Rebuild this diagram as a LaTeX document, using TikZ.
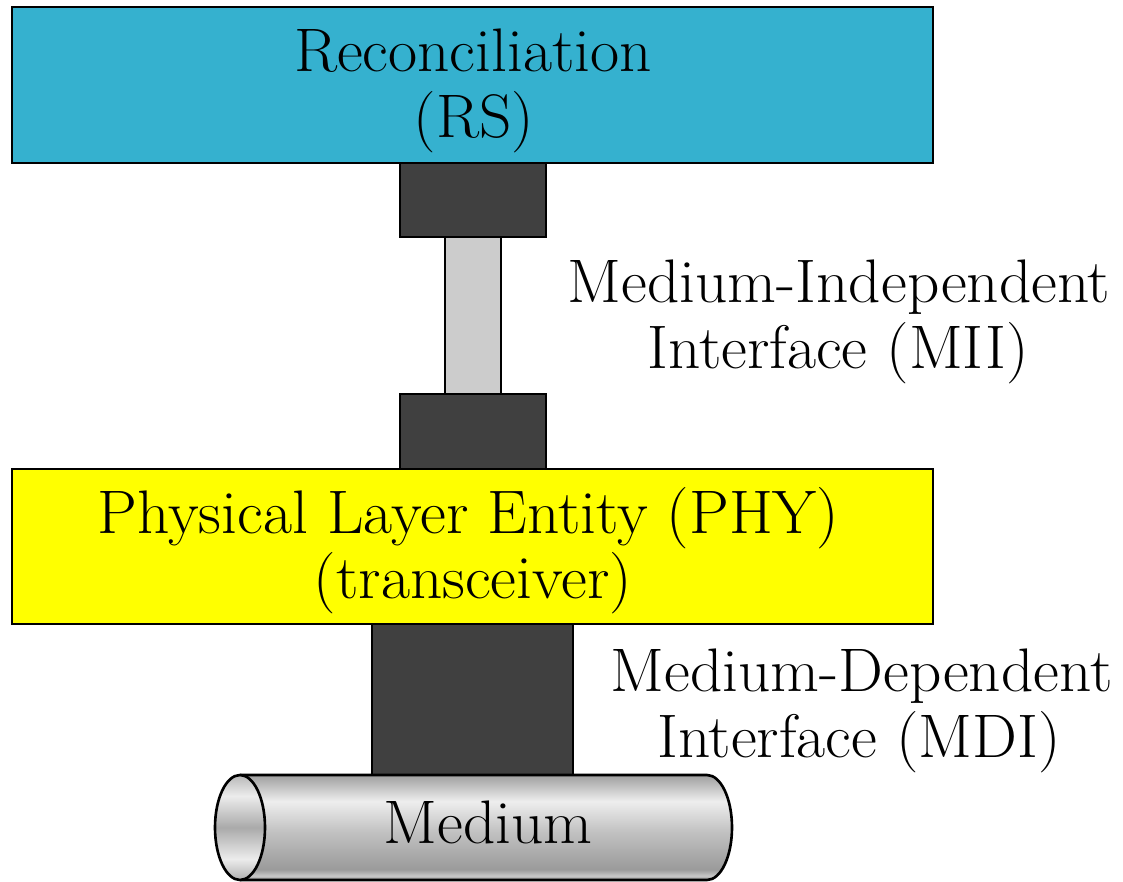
\documentclass[tikz,border=0pt]{standalone}
\usepackage{fontspec}
\setmainfont{Latin Modern Roman}[FakeStretch=1.03]
\usepackage{tikz}
\definecolor{rscol}{RGB}{53,177,207}
\definecolor{darkblk}{RGB}{64,64,64}
\definecolor{lightbar}{RGB}{204,204,204}
\definecolor{phycol}{RGB}{255,255,0}
\definecolor{gA}{RGB}{144,144,144}
\definecolor{gB}{RGB}{200,200,200}
\definecolor{gC}{RGB}{154,154,154}
\definecolor{gD}{RGB}{176,176,176}
\definecolor{gE}{RGB}{192,192,192}
\definecolor{gF}{RGB}{238,238,238}
\definecolor{gG}{RGB}{184,184,184}
\definecolor{gH}{RGB}{160,160,160}
\pgfdeclareverticalshading{tubebody}{100bp}{color(0bp)=(gA); color(25bp)=(gA); color(27bp)=(gB); color(30bp)=(gC); color(40bp)=(gD); color(47.5bp)=(gE); color(62.5bp)=(gF); color(71bp)=(gG); color(75bp)=(gH); color(100bp)=(gH)}
\definecolor{eA}{RGB}{176,176,176}
\definecolor{eB}{RGB}{236,236,236}
\definecolor{eC}{RGB}{170,170,170}
\definecolor{eD}{RGB}{236,236,236}
\definecolor{eE}{RGB}{184,184,184}
\pgfdeclareverticalshading{tubeend}{100bp}{color(0bp)=(eA); color(25bp)=(eA); color(35bp)=(eB); color(50bp)=(eC); color(65bp)=(eD); color(75bp)=(eE); color(100bp)=(eE)}
\begin{document}
\begin{tikzpicture}[x=0.02cm,y=0.02cm,
  blk/.style={draw=black,line width=1.5pt,inner sep=0pt,outer sep=0pt},
  txt/.style={inner sep=0pt,anchor=base,font=\fontsize{35}{39}\selectfont}]
\useasboundingbox (0,0) rectangle (1123,-882);
% connector blocks
\node[blk,fill=darkblk,minimum width=2.92cm,minimum height=1.48cm] (topblk) at (473,-200) {};
\node[blk,fill=lightbar,minimum width=1.12cm,minimum height=3.14cm] (bar) at (473,-315.5) {};
\node[blk,fill=darkblk,minimum width=2.92cm,minimum height=1.5cm] (botblk) at (473,-431.5) {};
\node[blk,fill=darkblk,minimum width=4.02cm,minimum height=3.02cm] (mdiblk) at (472.5,-699.5) {};
% layer boxes
\node[blk,fill=rscol,minimum width=18.42cm,minimum height=3.12cm] (rs) at (472.5,-85) {};
\node[blk,fill=phycol,minimum width=18.42cm,minimum height=3.1cm] (phy) at (472.5,-546.5) {};
% medium cylinder
\shade[shading=tubebody] (240,-775) -- (707,-775) arc[start angle=90,end angle=-90,x radius=25,y radius=52.5] -- (240,-880) -- cycle;
\draw[line width=1.5pt] (240,-775) -- (707,-775) arc[start angle=90,end angle=-90,x radius=25,y radius=52.5] -- (240,-880);
\shade[shading=tubeend,draw=black,line width=1.5pt] (240,-827.5) ellipse[x radius=25,y radius=52.5];
% texts
\node[txt] (rs1) at (473,-72) {Reconciliation};
\node[txt] (rs2) at (474,-138) {(RS)};
\node[txt] (mii1) at (839,-302) {Medium-Independent};
\node[txt] (mii2) at (838,-368) {Interface (MII)};
\node[txt] (phy1) at (468.5,-533) {Physical Layer Entity (PHY)};
\node[txt] (phy2) at (473,-598) {(transceiver)};
\node[txt] (mdi1) at (861.5,-691) {Medium-Dependent};
\node[txt] (mdi2) at (859,-757) {Interface (MDI)};
\node[txt] (med) at (488,-843) {Medium};
\end{tikzpicture}
\end{document}
